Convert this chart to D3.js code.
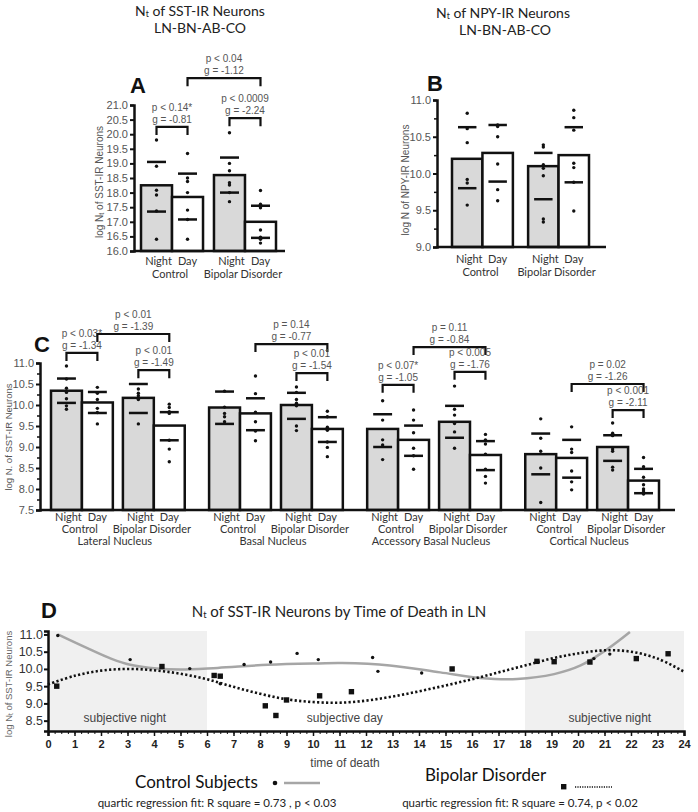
<!DOCTYPE html>
<html><head><meta charset="utf-8">
<script src="https://cdn.jsdelivr.net/npm/d3@7"></script>
<style>body{margin:0;background:#fff}svg{display:block}</style>
</head><body><svg id="c" width="698" height="812"></svg>
<script>
// ---------------- DATA ----------------
const stages = ["Night", "Day"];
const groups = ["Control", "Bipolar Disorder"];
const nuclei = ["Lateral Nucleus", "Basal Nucleus", "Accessory Basal Nucleus", "Cortical Nucleus"];

// Panel A: SST-IR, LN-BN-AB-CO (order: Control Night, Control Day, Bipolar Night, Bipolar Day)
const aMeans = [18.25, 17.85, 18.6, 17.0];
const aLines = [[19.05, 17.35], [18.65, 17.08], [19.2, 18.0], [17.55, 16.45]];
const aDots = [
  [19.8, 18.9, 18.08, 17.92, 17.37, 16.4],
  [19.34, 18.5, 18.38, 18.0, 17.4, 17.08, 16.4],
  [20.05, 19.0, 18.75, 18.34, 18.26, 18.0, 17.69],
  [18.07, 17.6, 17.48, 16.72, 16.47, 16.43, 16.4, 16.27]
];
const aBrackets = [
  {from: 0, to: 1, level: 20.25, text: ["p < 0.14*", "g = -0.81"]},
  {from: 2, to: 3, level: 20.55, text: ["p < 0.0009", "g = -2.24"]},
  {from: 1, to: 3, level: 21.92, text: ["p < 0.04", "g = -1.12"]}
];
const aTicks = [16.0, 16.5, 17.0, 17.5, 18.0, 18.5, 19.0, 19.5, 20.0, 20.5, 21.0];

// Panel B: NPY-IR
const bMeans = [10.2, 10.28, 10.1, 10.25];
const bLines = [[10.63, 9.8], [10.66, 9.89], [10.28, 9.65], [10.63, 9.88]];
const bDots = [
  [10.82, 10.61, 10.42, 9.92, 9.87, 9.57],
  [10.66, 10.64, 10.5, 10.13, 9.78, 9.63],
  [10.39, 10.36, 10.12, 10.07, 9.97, 9.38, 9.34],
  [10.86, 10.76, 10.59, 10.14, 10.08, 9.88, 9.49]
];
const bTicks = [9.0, 9.5, 10.0, 10.5, 11.0];

// Panel C: SST-IR by nucleus
const cMeans = [
  [10.34, 10.06, 10.17, 9.51],
  [9.94, 9.8, 10.0, 9.43],
  [9.43, 9.17, 9.6, 8.81],
  [8.83, 8.74, 9.0, 8.2]
];
const cLines = [
  [[10.63, 10.05], [10.31, 9.81], [10.5, 9.81], [9.83, 9.16]],
  [[10.32, 9.55], [10.16, 9.4], [10.29, 9.67], [9.71, 9.12]],
  [[9.78, 9.0], [9.51, 8.79], [9.98, 9.22], [9.14, 8.45]],
  [[9.32, 8.35], [9.17, 8.27], [9.28, 8.67], [8.48, 7.9]]
];
const cDots = [
  [[10.93, 10.62, 10.4, 10.3, 10.15, 9.98, 9.9],
   [10.42, 10.28, 10.13, 9.92, 9.82, 9.55],
   [10.38, 10.28, 10.22, 10.15, 10.13, 9.55],
   [10.02, 9.94, 9.84, 9.8, 9.16, 8.95, 8.65]],
  [[10.33, 9.95, 9.8, 9.72, 9.6],
   [10.69, 10.27, 9.83, 9.6, 9.38, 9.15],
   [10.43, 10.3, 10.13, 10.04, 9.98, 9.5, 9.39],
   [9.85, 9.72, 9.47, 9.4, 9.12, 8.99, 8.77]],
  [[10.1, 9.64, 9.17, 9.05, 8.7],
   [9.88, 9.64, 9.34, 8.97, 8.79, 8.47],
   [10.45, 9.9, 9.76, 9.56, 9.36, 8.97],
   [9.3, 9.17, 9.07, 8.83, 8.47, 8.3, 8.14]],
  [[9.67, 9.21, 8.9, 8.5, 7.68],
   [9.48, 8.95, 8.87, 8.43, 8.17, 7.98],
   [9.57, 9.33, 9.27, 8.95, 8.9, 8.52, 8.45],
   [8.75, 8.53, 8.28, 8.1, 8.0, 7.95, 7.88]]
];
const cBrackets = [
  [{from: 0, to: 1, level: 11.24, text: ["p < 0.03*", "g = -1.34"]},
   {from: 1, to: 3, level: 11.69, text: ["p < 0.01", "g = -1.39"]},
   {from: 2, to: 3, level: 10.83, text: ["p < 0.01", "g = -1.49"]}],
  [{from: 1, to: 3, level: 11.45, text: ["p = 0.14", "g = -0.77"]},
   {from: 2, to: 3, level: 10.76, text: ["p < 0.01", "g = -1.54"]}],
  [{from: 0, to: 1, level: 10.48, text: ["p < 0.07*", "g = -1.05"]},
   {from: 1, to: 3, level: 11.38, text: ["p = 0.11", "g = -0.84"]},
   {from: 2, to: 3, level: 10.79, text: ["p < 0.005", "g = -1.76"]}],
  [{from: 1, to: 3, level: 10.5, text: ["p = 0.02", "g = -1.26"]},
   {from: 2, to: 3, level: 9.88, text: ["p < 0.001", "g = -2.11"]}]
];
const cTicks = [7.5, 8.0, 8.5, 9.0, 9.5, 10.0, 10.5, 11.0];

// Panel D: SST-IR by time of death in LN
const controlTimes = [0.37, 3.1, 5.35, 6.5, 7.4, 8.4, 9.4, 10.2, 12.25, 12.45, 14.1, 20.6, 21.2];
const controlValues = [10.97, 10.27, 10.01, 9.57, 10.13, 10.2, 10.45, 10.27, 10.33, 9.93, 9.88, 10.3, 10.43];
const bipolarTimes = [0.33, 4.3, 6.27, 6.5, 8.2, 8.6, 9.0, 10.25, 11.45, 15.25, 18.45, 19.1, 20.45, 22.2, 23.4];
const bipolarValues = [9.5, 10.07, 9.81, 9.79, 8.93, 8.65, 9.1, 9.22, 9.34, 10.0, 10.22, 10.21, 10.2, 10.3, 10.44];
// fitted curves
const controlFitT = [0.37, 1.4, 2.4, 3.1, 4.1, 5.0, 6.4, 8.3, 10.2, 11.1, 12.9, 14.8, 16.3, 17.7, 19.1, 20.1, 21.1, 21.96];
const controlFitV = [11.0, 10.63, 10.29, 10.12, 10.01, 9.98, 10.03, 10.12, 10.16, 10.17, 10.1, 9.9, 9.74, 9.71, 9.85, 10.1, 10.57, 11.07];
const bipolarFitT = [0, 1, 2, 3, 4, 5, 6, 7, 8, 9, 10, 11, 12, 13, 14, 15, 16, 17, 18, 19, 20, 21, 22, 23, 24];
const bipolarFitV = [9.55, 9.8, 9.95, 10.0, 9.96, 9.86, 9.7, 9.48, 9.28, 9.12, 9.04, 9.02, 9.08, 9.2, 9.35, 9.52, 9.7, 9.9, 10.1, 10.3, 10.45, 10.54, 10.5, 10.3, 9.92];
const nightSpans = [[0, 6], [18, 24]];
const dXTicks = d3.range(0, 25);
const dYTicks = [8.5, 9.0, 9.5, 10.0, 10.5, 11.0];
const periodLabels = [{t: 2.9, text: "subjective night"}, {t: 11.2, text: "subjective day"}, {t: 21.2, text: "subjective night"}];

// ---------------- DRAWING ----------------
const svg = d3.select("#c");
svg.append("rect").attr("width", 698).attr("height", 812).attr("fill", "#fff");
const FM = "Lato, 'Open Sans', sans-serif";
const FA = "'Liberation Sans', Arial, sans-serif";
const INK = "#111";

function ntText(sel, x, y, size, before, after, anchor) {
  const t = sel.append("text").attr("x", x).attr("y", y).attr("font-family", FM)
    .attr("font-size", size).attr("fill", "#222").attr("text-anchor", anchor || "middle");
  t.append("tspan").text(before);
  t.append("tspan").attr("font-size", size * 0.62).attr("dy", 1).text("t");
  t.append("tspan").attr("dy", -1).text(after);
  return t;
}
function letter(x, y, s) {
  svg.append("text").attr("x", x).attr("y", y).attr("font-family", FA)
    .attr("font-weight", "bold").attr("font-size", 22).attr("fill", INK).text(s);
}
function yAxis(y, x, ticks, minor) {
  if (minor) {
    const g = svg.append("g").attr("transform", `translate(${x},0)`);
    g.call(d3.axisLeft(y).tickValues(minor).tickSize(3).tickFormat(""))
      .call(s => s.select(".domain").remove())
      .call(s => s.selectAll("line").attr("stroke", INK).attr("stroke-width", 1.5));
  }
  const a = svg.append("g").attr("transform", `translate(${x},0)`)
    .call(d3.axisLeft(y).tickValues(ticks).tickSize(4).tickPadding(2).tickFormat(d3.format(".1f")));
  a.select(".domain").attr("stroke", INK).attr("stroke-width", 2.5);
  a.selectAll(".tick line").attr("stroke", INK).attr("stroke-width", 2);
  a.selectAll("text").attr("font-family", FA).attr("font-size", 11).attr("fill", "#555");
  return a;
}

function drawQuad(range, padInner, y, means, lines, dots, brackets) {
  const outer = d3.scaleBand().domain(groups).range(range).paddingInner(padInner);
  const inner = d3.scaleBand().domain(stages).range([0, outer.bandwidth()]);
  const bx = i => outer(groups[Math.floor(i / 2)]) + inner(stages[i % 2]);
  const bw = inner.bandwidth();
  const base = y.range()[0];
  const g = svg.append("g");
  g.selectAll("rect").data(means).join("rect")
    .attr("x", (d, i) => bx(i)).attr("y", d => y(d))
    .attr("width", bw).attr("height", d => base - y(d))
    .attr("fill", (d, i) => i % 2 === 0 ? "#d9d9d9" : "#fff")
    .attr("stroke", INK).attr("stroke-width", 2.5);
  lines.forEach((ls, i) => ls.forEach(v => {
    g.append("line").attr("x1", bx(i) + 6).attr("x2", bx(i) + bw - 6)
      .attr("y1", y(v)).attr("y2", y(v)).attr("stroke", INK).attr("stroke-width", 2.5);
  }));
  dots.forEach((ds, i) => ds.forEach(v => {
    g.append("circle").attr("cx", bx(i) + bw / 2).attr("cy", y(v)).attr("r", 1.7).attr("fill", INK);
  }));
  brackets.forEach(b => {
    const xa = bx(b.from) + bw / 2, xb = bx(b.to) + bw / 2, yy = y(b.level);
    g.append("path").attr("d", `M${xa},${yy + 8}V${yy}H${xb}V${yy + 8}`)
      .attr("fill", "none").attr("stroke", INK).attr("stroke-width", 2.2);
    b.text.forEach((t, k) => {
      g.append("text").attr("x", (xa + xb) / 2).attr("y", yy - 4 - (1 - k) * 12)
        .attr("text-anchor", "middle").attr("font-family", FA).attr("font-size", 10)
        .attr("fill", "#555").text(t);
    });
  });
  return {bx, bw, outer};
}
function barLabels(q, base, dy1, dy2, nucleus) {
  [0, 1, 2, 3].forEach(i => {
    svg.append("text").attr("x", q.bx(i) + q.bw / 2 + (i % 2 === 0 ? 2 : 0)).attr("y", base + dy1)
      .attr("text-anchor", "middle").attr("font-family", FM).attr("font-size", 11)
      .attr("fill", "#333").text(stages[i % 2]);
  });
  groups.forEach(gname => {
    svg.append("text").attr("x", q.outer(gname) + q.outer.bandwidth() / 2 - 2).attr("y", base + dy2)
      .attr("text-anchor", "middle").attr("font-family", FM).attr("font-size", 11)
      .attr("fill", "#333").text(gname);
  });
  if (nucleus) {
    svg.append("text").attr("x", (q.outer.range()[0] + q.outer.range()[1]) / 2 - 3).attr("y", base + dy2 + 12)
      .attr("text-anchor", "middle").attr("font-family", FM).attr("font-size", 11)
      .attr("fill", "#333").text(nucleus);
  }
}
function xAxisLine(x0, x1, yy) {
  svg.append("line").attr("x1", x0).attr("x2", x1).attr("y1", yy).attr("y2", yy)
    .attr("stroke", INK).attr("stroke-width", 2.5);
}

// ---- Panel A ----
ntText(svg, 200, 16, 14, "N", " of SST-IR Neurons");
svg.append("text").attr("x", 200).attr("y", 33).attr("text-anchor", "middle").attr("font-family", FM)
  .attr("font-size", 14).attr("fill", "#222").text("LN-BN-AB-CO");
letter(130, 93, "A");
const yA = d3.scaleLinear().domain([16, 21]).range([251, 105]);
const qA = drawQuad([141, 276], 0.15, yA, aMeans, aLines, aDots, aBrackets);
xAxisLine(134, 285, 251);
yAxis(yA, 134, aTicks);
barLabels(qA, 251, 14, 27);
{
  const t = svg.append("text").attr("transform", "translate(103,182) rotate(-90)").attr("text-anchor", "middle")
    .attr("font-family", FA).attr("font-size", 10).attr("fill", "#555");
  t.append("tspan").text("log N");
  t.append("tspan").attr("font-size", 7).attr("dy", 1).text("t");
  t.append("tspan").attr("dy", -1).text(" of SST-IR Neurons");
}

// ---- Panel B ----
ntText(svg, 503, 18, 14, "N", " of NPY-IR Neurons");
svg.append("text").attr("x", 505).attr("y", 35).attr("text-anchor", "middle").attr("font-family", FM)
  .attr("font-size", 14).attr("fill", "#222").text("LN-BN-AB-CO");
letter(427, 91, "B");
const yB = d3.scaleLinear().domain([9, 11]).range([247, 100]);
const qB = drawQuad([452, 589], 0.2, yB, bMeans, bLines, bDots, []);
xAxisLine(437, 606, 247);
yAxis(yB, 437, bTicks, d3.range(9.25, 11, 0.5));
barLabels(qB, 247, 16, 29);
svg.append("text").attr("transform", "translate(409,180) rotate(-90)").attr("text-anchor", "middle")
  .attr("font-family", FA).attr("font-size", 10).attr("fill", "#555").text("log N of NPY-IR Neurons");

// ---- Panel C ----
letter(34, 352, "C");
const yC = d3.scaleLinear().domain([7.5, 11]).range([510, 363]);
const outerC = d3.scaleBand().domain(nuclei).range([51, 659]).paddingInner(0.154);
nuclei.forEach((n, k) => {
  const x0 = outerC(n);
  const q = drawQuad([x0, x0 + outerC.bandwidth()], 0.14, yC, cMeans[k], cLines[k], cDots[k], cBrackets[k]);
  barLabels(q, 510, 11, 23, n);
});
xAxisLine(40, 675, 510);
yAxis(yC, 40, cTicks, d3.range(7.75, 11, 0.5));
svg.append("text").attr("transform", "translate(12,437) rotate(-90)").attr("text-anchor", "middle")
  .attr("font-family", FA).attr("font-size", 9.5).attr("fill", "#555").text("log N. of SST-IR Neurons");

// ---- Panel D ----
letter(41, 618, "D");
ntText(svg, 339, 617, 15, "N", " of SST-IR Neurons by Time of Death in LN");
const xD = d3.scaleLinear().domain([0, 24]).range([48, 684]);
const yD = d3.scaleLinear().domain([8.2, 11.1]).range([731, 631]);
svg.append("g").selectAll("rect").data(nightSpans).join("rect")
  .attr("x", d => xD(d[0])).attr("width", d => xD(d[1]) - xD(d[0]))
  .attr("y", yD(11.1)).attr("height", yD(8.2) - yD(11.1)).attr("fill", "#f0f0f0");
svg.append("g").selectAll("text").data(periodLabels).join("text")
  .attr("x", d => xD(d.t)).attr("y", 722).attr("text-anchor", "middle")
  .attr("font-family", FA).attr("font-size", 12).attr("fill", "#444").text(d => d.text);

const lineGen = d3.line().x(d => xD(d[0])).y(d => yD(d[1])).curve(d3.curveCatmullRom.alpha(0.5));
svg.append("path").attr("d", lineGen(controlFitT.map((t, i) => [t, controlFitV[i]])))
  .attr("fill", "none").attr("stroke", "#a6a6a6").attr("stroke-width", 2.5);
svg.append("path").attr("d", lineGen(bipolarFitT.map((t, i) => [t, bipolarFitV[i]])))
  .attr("fill", "none").attr("stroke", INK).attr("stroke-width", 2.6).attr("stroke-dasharray", "2.2,2.3");
svg.append("g").selectAll("circle").data(controlTimes).join("circle")
  .attr("cx", d => xD(d)).attr("cy", (d, i) => yD(controlValues[i])).attr("r", 1.7).attr("fill", INK);
svg.append("g").selectAll("rect").data(bipolarTimes).join("rect")
  .attr("x", d => xD(d) - 2.7).attr("y", (d, i) => yD(bipolarValues[i]) - 2.7)
  .attr("width", 5.4).attr("height", 5.4).attr("fill", INK);

// axes D
{
  const gm = svg.append("g").attr("transform", "translate(0,731)")
    .call(d3.axisBottom(xD).tickValues(d3.range(0, 24.01, 0.25)).tickSize(3).tickFormat(""));
  gm.select(".domain").remove();
  gm.selectAll("line").attr("stroke", INK).attr("stroke-width", 1);
  const ax = svg.append("g").attr("transform", "translate(0,731)")
    .call(d3.axisBottom(xD).tickValues(dXTicks).tickSize(5).tickPadding(4).tickFormat(d3.format("d")));
  ax.select(".domain").attr("stroke", INK).attr("stroke-width", 2.5);
  ax.selectAll(".tick line").attr("stroke", INK).attr("stroke-width", 1.5);
  ax.selectAll("text").attr("font-family", FA).attr("font-size", 11).attr("font-weight", "bold").attr("fill", "#222");
  const ay = svg.append("g").attr("transform", "translate(48,0)")
    .call(d3.axisLeft(yD).tickValues(dYTicks).tickSize(4).tickPadding(1).tickFormat(d3.format(".1f")));
  ay.select(".domain").attr("stroke", INK).attr("stroke-width", 2.5);
  ay.selectAll(".tick line").attr("stroke", INK).attr("stroke-width", 2);
  ay.selectAll("text").attr("font-family", FA).attr("font-size", 12.5).attr("fill", "#333");
  const t = svg.append("text").attr("transform", "translate(12,684) rotate(-90)").attr("text-anchor", "middle")
    .attr("font-family", FA).attr("font-size", 9.5).attr("fill", "#666");
  t.append("tspan").text("log N");
  t.append("tspan").attr("font-size", 6.5).attr("dy", 1).text("t");
  t.append("tspan").attr("dy", -1).text(" of SST-IR Neurons");
}
svg.append("text").attr("x", 345).attr("y", 767).attr("text-anchor", "middle").attr("font-family", FA)
  .attr("font-size", 12).attr("fill", "#444").text("time of death");

// legend
svg.append("text").attr("x", 135).attr("y", 788).attr("font-family", FM).attr("font-size", 17)
  .attr("fill", "#111").text("Control Subjects");
svg.append("circle").attr("cx", 275).attr("cy", 783).attr("r", 2.3).attr("fill", INK);
svg.append("line").attr("x1", 284).attr("x2", 320).attr("y1", 783).attr("y2", 783)
  .attr("stroke", "#a6a6a6").attr("stroke-width", 2.5);
svg.append("text").attr("x", 425).attr("y", 781).attr("font-family", FM).attr("font-size", 17)
  .attr("fill", "#111").text("Bipolar Disorder");
svg.append("rect").attr("x", 561).attr("y", 784).attr("width", 5.4).attr("height", 5.4).attr("fill", INK);
svg.append("line").attr("x1", 575).attr("x2", 612).attr("y1", 787).attr("y2", 787)
  .attr("stroke", INK).attr("stroke-width", 1.5).attr("stroke-dasharray", "1.2,1.2");
svg.append("text").attr("x", 217).attr("y", 807).attr("text-anchor", "middle").attr("font-family", FM)
  .attr("font-size", 11.5).attr("fill", "#222").text("quartic regression fit: R square = 0.73 , p < 0.03");
svg.append("text").attr("x", 520).attr("y", 807).attr("text-anchor", "middle").attr("font-family", FM)
  .attr("font-size", 11.5).attr("fill", "#222").text("quartic regression fit: R square = 0.74, p < 0.02");
</script>
</body></html>
